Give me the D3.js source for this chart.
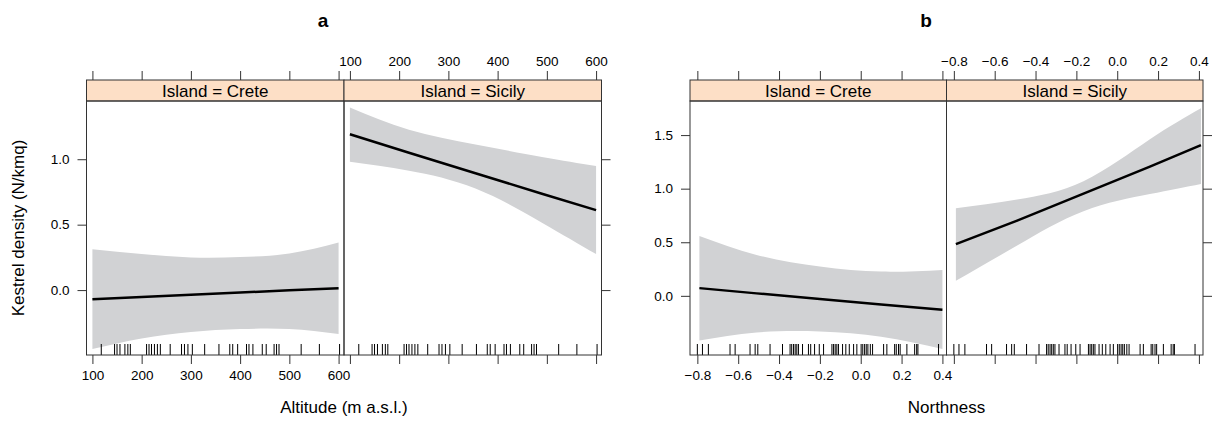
<!DOCTYPE html>
<html>
<head>
<meta charset="utf-8">
<script src="https://cdn.jsdelivr.net/npm/d3@7"></script>
<style>
  body { margin: 0; background: #fff; }
  svg { display: block; font-family: "Liberation Sans", Arial, sans-serif; }
</style>
</head>
<body>
<svg id="chart" width="1213" height="421"></svg>
<script>
// ---- data ----
const islands = ["Crete", "Sicily"];

const altitudeTicks = [100, 200, 300, 400, 500, 600];
const northnessTicks = [-0.8, -0.6, -0.4, -0.2, 0.0, 0.2, 0.4];
const densityTicksA = [0.0, 0.5, 1.0];
const densityTicksB = [0.0, 0.5, 1.0, 1.5];

// panel a: altitude effect
const creteAltX     = [100, 200, 300, 400, 500, 600];
const creteAltFit   = [-0.07, -0.053, -0.036, -0.019, -0.002, 0.015];
const creteAltUpper = [0.313, 0.275, 0.25, 0.252, 0.28, 0.364];
const creteAltLower = [-0.45, -0.37, -0.32, -0.298, -0.298, -0.336];

const sicilyAltX     = [100, 220, 355, 490, 600];
const sicilyAltFit   = [1.191, 1.05, 0.893, 0.736, 0.611];
const sicilyAltUpper = [1.395, 1.225, 1.112, 1.018, 0.949];
const sicilyAltLower = [0.98, 0.912, 0.776, 0.515, 0.275];

// panel b: northness effect
const creteNorthX     = [-0.79, -0.51, -0.2, 0.1, 0.4];
const creteNorthFit   = [0.072, 0.023, -0.029, -0.08, -0.13];
const creteNorthUpper = [0.559, 0.382, 0.273, 0.226, 0.242];
const creteNorthLower = [-0.417, -0.342, -0.333, -0.382, -0.497];

const sicilyNorthX     = [-0.79, -0.49, -0.165, 0.16, 0.41];
const sicilyNorthFit   = [0.482, 0.702, 0.954, 1.206, 1.407];
const sicilyNorthUpper = [0.817, 0.9, 1.07, 1.46, 1.75];
const sicilyNorthLower = [0.14, 0.47, 0.79, 0.95, 1.044];

// rug of observed values (same in both island panels)
const altitudeRug = [118, 145, 150, 156, 166, 172, 177, 210, 215, 220, 226, 232, 238, 258,
  281, 287, 294, 303, 328, 357, 379, 385, 395, 413, 418, 426, 445, 453, 469, 474, 479,
  524, 561, 602];
const northnessRug = [-0.8, -0.775, -0.746, -0.64, -0.615, -0.542, -0.517, -0.504, -0.444,
  -0.383, -0.346, -0.338, -0.329, -0.321, -0.313, -0.305, -0.285, -0.256, -0.245, -0.226,
  -0.203, -0.182, -0.141, -0.133, -0.125, -0.117, -0.109, -0.089, -0.073, -0.056, -0.035,
  -0.019, 0.002, 0.01, 0.019, 0.027, 0.035, 0.047, 0.058, 0.112, 0.128, 0.166, 0.174,
  0.185, 0.193, 0.226, 0.264, 0.274, 0.28, 0.381];

function zip(xs, fit, lo, hi) {
  return xs.map((x, i) => ({ x: x, fit: fit[i], lo: lo[i], hi: hi[i] }));
}

const svg = d3.select("#chart");

const stripTop = 80;
const panelTop = 101;
const panelBottom = 355;
const tickLen = 9;
const border = "#333";

function drawFigure(cfg) {
    const g = svg.append("g");
    const w = (cfg.right - cfg.left) / islands.length;

    const y = d3.scaleLinear().domain(cfg.yDomain).range([panelBottom, panelTop]);

    g.append("text")
        .attr("x", cfg.titleX)
        .attr("y", 27)
        .attr("text-anchor", "middle")
        .style("font-weight", "bold")
        .style("font-size", "19px")
        .text(cfg.title);

    islands.forEach(function (island, i) {
        const x0 = cfg.left + i * w;
        const x = d3.scaleLinear().domain(cfg.xDomain).range([x0, x0 + w]);
        const series = cfg.series[i];

        const area = d3.area()
            .x(d => x(d.x))
            .y0(d => y(d.lo))
            .y1(d => y(d.hi))
            .curve(d3.curveNatural);

        const line = d3.line()
            .x(d => x(d.x))
            .y(d => y(d.fit));

        g.append("path")
            .datum(series)
            .attr("d", area)
            .attr("fill", "#d1d2d4");

        g.append("path")
            .datum(series)
            .attr("d", line)
            .attr("fill", "none")
            .attr("stroke", "#000")
            .attr("stroke-width", 2.5);

        // rug
        g.selectAll(null)
            .data(cfg.rug)
            .enter().append("line")
            .attr("x1", d => x(d)).attr("x2", d => x(d))
            .attr("y1", panelBottom).attr("y2", panelBottom - 11)
            .attr("stroke", "#000")
            .attr("stroke-width", 1);

        // strip
        g.append("rect")
            .attr("x", x0).attr("y", stripTop)
            .attr("width", w).attr("height", panelTop - stripTop)
            .attr("fill", "#fddfc6")
            .attr("stroke", border)
            .attr("stroke-width", 1);

        g.append("text")
            .attr("x", x0 + w / 2)
            .attr("y", stripTop + 16.5)
            .attr("text-anchor", "middle")
            .style("font-size", "17px")
            .text("Island = " + island);

        // panel border
        g.append("rect")
            .attr("x", x0).attr("y", panelTop)
            .attr("width", w).attr("height", panelBottom - panelTop)
            .attr("fill", "none")
            .attr("stroke", border)
            .attr("stroke-width", 1);

        // bottom axis: labels on first panel only
        const bottom = d3.axisBottom(x)
            .tickValues(cfg.xTicks)
            .tickSize(tickLen)
            .tickPadding(6)
            .tickFormat(i === 0 ? cfg.xFormat : "");
        const gb = g.append("g")
            .attr("transform", "translate(0," + panelBottom + ")")
            .call(bottom);

        // top axis: labels on second panel only
        const top = d3.axisTop(x)
            .tickValues(cfg.xTicks)
            .tickSize(tickLen)
            .tickPadding(5)
            .tickFormat(i === 1 ? cfg.xFormat : "");
        const gt = g.append("g")
            .attr("transform", "translate(0," + stripTop + ")")
            .call(top);

        [gb, gt].forEach(function (ax) {
            ax.select(".domain").remove();
            ax.selectAll("line").attr("stroke", border);
            ax.selectAll("text")
                .style("font-size", "13.5px")
                .style("font-family", "Liberation Sans, Arial, sans-serif")
                .attr("fill", "#000");
        });
    });

    const yl = g.append("g")
        .attr("transform", "translate(" + cfg.left + ",0)")
        .call(d3.axisLeft(y).tickValues(cfg.yTicks).tickSize(tickLen).tickPadding(8)
            .tickFormat(d3.format(".1f")));
    const yr = g.append("g")
        .attr("transform", "translate(" + cfg.right + ",0)")
        .call(d3.axisRight(y).tickValues(cfg.yTicks).tickSize(tickLen).tickFormat(""));

    [yl, yr].forEach(function (ax) {
        ax.select(".domain").remove();
        ax.selectAll("line").attr("stroke", border);
        ax.selectAll("text")
            .style("font-size", "13.5px")
            .style("font-family", "Liberation Sans, Arial, sans-serif")
            .attr("fill", "#000");
    });

    g.append("text")
        .attr("x", (cfg.left + cfg.right) / 2)
        .attr("y", 413)
        .attr("text-anchor", "middle")
        .style("font-size", "17px")
        .text(cfg.xTitle);

    if (cfg.yTitle) {
        g.append("text")
            .attr("transform", "translate(24," + (panelTop + panelBottom) / 2 + ") rotate(-90)")
            .attr("text-anchor", "middle")
            .style("font-size", "17px")
            .text(cfg.yTitle);
    }
}

drawFigure({
    title: "a",
    titleX: 323,
    left: 86.5,
    right: 601.5,
    xDomain: [88, 611],
    yDomain: [-0.496, 1.445],
    xTicks: altitudeTicks,
    yTicks: densityTicksA,
    xFormat: d3.format("d"),
    xTitle: "Altitude (m a.s.l.)",
    yTitle: "Kestrel density (N/kmq)",
    rug: altitudeRug,
    series: [
        zip(creteAltX, creteAltFit, creteAltLower, creteAltUpper),
        zip(sicilyAltX, sicilyAltFit, sicilyAltLower, sicilyAltUpper)
    ]
});

drawFigure({
    title: "b",
    titleX: 926,
    left: 690,
    right: 1203,
    xDomain: [-0.836, 0.42],
    yDomain: [-0.552, 1.818],
    xTicks: northnessTicks,
    yTicks: densityTicksB,
    xFormat: d3.format(".1f"),
    xTitle: "Northness",
    yTitle: null,
    rug: northnessRug,
    series: [
        zip(creteNorthX, creteNorthFit, creteNorthLower, creteNorthUpper),
        zip(sicilyNorthX, sicilyNorthFit, sicilyNorthLower, sicilyNorthUpper)
    ]
});
</script>
</body>
</html>
